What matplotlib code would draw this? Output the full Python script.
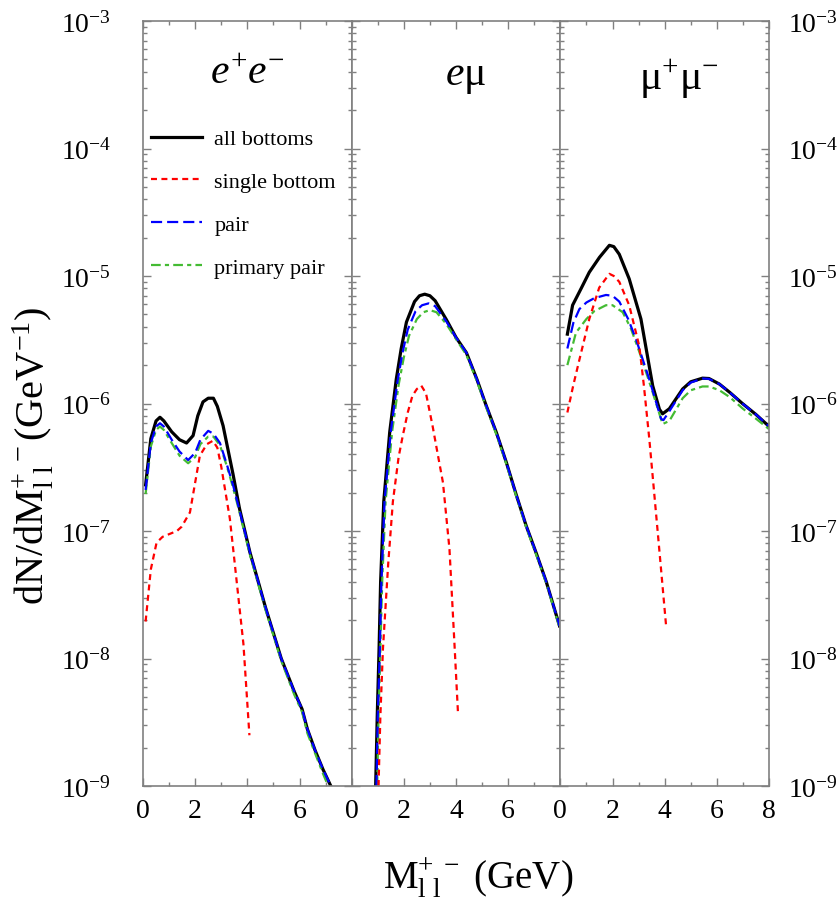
import matplotlib
matplotlib.use("Agg")
import matplotlib.pyplot as plt
from matplotlib.ticker import LogLocator, FixedLocator, NullFormatter, FixedFormatter
import numpy as np

plt.rcParams['font.family'] = ['Liberation Serif', 'DejaVu Serif']
plt.rcParams['mathtext.fontset'] = 'custom'
plt.rcParams['mathtext.rm'] = 'Liberation Serif'
plt.rcParams['mathtext.it'] = 'Liberation Serif:italic'
plt.rcParams['mathtext.bf'] = 'Liberation Serif:bold'
plt.rcParams['lines.scale_dashes'] = False

# ---------------- data ----------------
panel_titles = [r"$e^{+}e^{-}$", r"$e$μ", r"μ$^{+}$μ$^{-}$"]
legend_labels = ["all bottoms", "single bottom", "pair", "primary pair"]
x_ticks = [0, 2, 4, 6, 8]
x_tick_labels = ["0", "2", "4", "6", "8"]
y_ticks = [1e-9, 1e-8, 1e-7, 1e-6, 1e-5, 1e-4, 1e-3]
y_tick_labels = [r"$10^{-9}$", r"$10^{-8}$", r"$10^{-7}$", r"$10^{-6}$",
                 r"$10^{-5}$", r"$10^{-4}$", r"$10^{-3}$"]

# e+e- panel
ee_all_x = [0.1, 0.3, 0.5, 0.65, 0.8, 1.1, 1.4, 1.67, 1.92, 2.1, 2.3, 2.5, 2.7, 2.85, 3.07,
            3.45, 3.7, 4.1, 4.7, 5.3, 5.8, 6.1, 6.3, 6.6, 6.9, 7.2]
ee_all = [2.3e-7, 5.3e-7, 7.3e-7, 7.8e-7, 7.3e-7, 6.0e-7, 5.2e-7, 4.9e-7, 5.6e-7, 8.0e-7,
          1.03e-6, 1.1e-6, 1.1e-6, 9.5e-7, 6.7e-7, 2.8e-7, 1.5e-7, 6.8e-8, 2.5e-8, 1.0e-8,
          5.5e-9, 4.0e-9, 2.8e-9, 1.9e-9, 1.35e-9, 1.0e-9]
ee_single_x = [0.1, 0.3, 0.52, 0.75, 1.03, 1.3, 1.48, 1.8, 2.0, 2.18, 2.45, 2.68, 2.85, 3.0,
               3.33, 3.5, 3.7, 3.85, 4.08]
ee_single = [1.95e-8, 5e-8, 8.1e-8, 9e-8, 9.5e-8, 1.0e-7, 1.08e-7, 1.4e-7, 2.4e-7, 3.9e-7,
             4.8e-7, 5.1e-7, 4.5e-7, 3.2e-7, 1.25e-7, 6e-8, 2.5e-8, 1.3e-8, 2.5e-9]
ee_pair_x = [0.1, 0.3, 0.5, 0.65, 0.8, 1.1, 1.4, 1.73, 2.0, 2.2, 2.5, 2.7, 2.95, 3.2, 3.45,
             3.7, 4.1, 4.7, 5.3, 5.8, 6.1, 6.3, 6.6, 6.9, 7.2]
ee_pair = [2.1e-7, 4.9e-7, 6.6e-7, 7.0e-7, 6.6e-7, 5.2e-7, 4.2e-7, 3.6e-7, 4.1e-7, 5.2e-7,
           6.1e-7, 5.8e-7, 4.9e-7, 3.4e-7, 2.3e-7, 1.45e-7, 6.8e-8, 2.5e-8, 1.0e-8, 5.5e-9,
           4.0e-9, 2.8e-9, 1.9e-9, 1.35e-9, 1.0e-9]
ee_prim_x = [0.1, 0.3, 0.5, 0.65, 0.8, 1.1, 1.4, 1.73, 2.0, 2.2, 2.5, 2.7, 2.95, 3.2, 3.45,
             3.7, 4.1, 4.7, 5.3, 5.8, 6.1, 6.3, 6.6, 6.9, 7.1]
ee_prim = [1.95e-7, 4.6e-7, 6.2e-7, 6.6e-7, 6.2e-7, 4.9e-7, 3.9e-7, 3.4e-7, 3.8e-7, 4.8e-7,
           5.5e-7, 5.5e-7, 4.7e-7, 3.3e-7, 2.2e-7, 1.4e-7, 6.5e-8, 2.4e-8, 9.6e-9, 5.2e-9,
           3.8e-9, 2.6e-9, 1.8e-9, 1.25e-9, 1.0e-9]

# e mu panel
em_all_x = [0.92, 0.98, 1.05, 1.11, 1.23, 1.46, 1.71, 1.9, 2.1, 2.41, 2.6, 2.8, 3.0, 3.2,
            3.63, 4.0, 4.4, 4.8, 5.16, 5.55, 5.93, 6.3, 6.69, 7.1, 7.46, 7.97]
em_all = [1e-9, 3.5e-9, 1.17e-8, 4e-8, 1.7e-7, 6e-7, 1.55e-6, 2.7e-6, 4.35e-6, 6.3e-6,
          7.0e-6, 7.2e-6, 7.0e-6, 6.4e-6, 4.55e-6, 3.3e-6, 2.5e-6, 1.55e-6, 9.6e-7, 5.9e-7,
          3.45e-7, 1.95e-7, 1.1e-7, 6.5e-8, 4e-8, 1.8e-8]
em_single_x = [1.03, 1.1, 1.2, 1.4, 1.58, 1.8, 1.96, 2.15, 2.33, 2.5, 2.67, 2.85, 3.1, 3.3,
               3.5, 3.75, 3.95, 4.08]
em_single = [1e-9, 3.5e-9, 1.2e-8, 5.5e-8, 1.7e-7, 3.8e-7, 5.6e-7, 8.5e-7, 1.15e-6, 1.3e-6,
             1.38e-6, 1.2e-6, 6.7e-7, 4e-7, 2.4e-7, 7.2e-8, 1.2e-8, 3.6e-9]
em_pair_x = [0.95, 1.0, 1.08, 1.14, 1.26, 1.5, 1.76, 1.95, 2.15, 2.45, 2.7, 2.95, 3.2, 3.63,
             4.0, 4.4, 4.8, 5.16, 5.55, 5.93, 6.3, 6.69, 7.1, 7.46, 7.97]
em_pair = [1e-9, 3.5e-9, 1.17e-8, 4e-8, 1.7e-7, 6e-7, 1.5e-6, 2.5e-6, 3.8e-6, 5.3e-6,
           5.9e-6, 6.1e-6, 5.8e-6, 4.4e-6, 3.3e-6, 2.5e-6, 1.55e-6, 9.6e-7, 5.9e-7,
           3.45e-7, 1.95e-7, 1.1e-7, 6.5e-8, 4e-8, 1.8e-8]
em_prim_x = [0.98, 1.03, 1.1, 1.17, 1.3, 1.55, 1.8, 2.0, 2.2, 2.5, 2.75, 3.0, 3.25, 3.63,
             4.0, 4.4, 4.8, 5.16, 5.55, 5.93, 6.3, 6.69, 7.1, 7.46, 7.97]
em_prim = [1e-9, 3.5e-9, 1.17e-8, 4e-8, 1.7e-7, 6e-7, 1.4e-6, 2.3e-6, 3.4e-6, 4.6e-6,
           5.2e-6, 5.4e-6, 5.2e-6, 4.2e-6, 3.2e-6, 2.4e-6, 1.5e-6, 9.3e-7, 5.7e-7,
           3.35e-7, 1.9e-7, 1.07e-7, 6.3e-8, 3.9e-8, 1.75e-8]

# mu+ mu- panel
mm_all_x = [0.27, 0.47, 0.8, 1.11, 1.5, 1.88, 2.05, 2.26, 2.64, 3.09, 3.54, 3.8, 3.92, 4.18,
            4.69, 5.0, 5.45, 5.7, 6.1, 6.5, 6.98, 7.5, 7.97]
mm_all = [3.5e-6, 5.9e-6, 8.0e-6, 1.07e-5, 1.4e-5, 1.74e-5, 1.7e-5, 1.48e-5, 9.5e-6, 4.6e-6,
          1.38e-6, 9e-7, 8.3e-7, 9.1e-7, 1.3e-6, 1.48e-6, 1.58e-6, 1.57e-6, 1.42e-6,
          1.22e-6, 1.0e-6, 8.2e-7, 6.7e-7]
mm_single_x = [0.27, 0.5, 0.73, 1.11, 1.49, 1.88, 2.05, 2.26, 2.64, 3.03, 3.2, 3.41, 3.73, 4.05]
mm_single = [8.5e-7, 1.4e-6, 2.2e-6, 4.6e-6, 8.1e-6, 1.04e-5, 1.0e-5, 9.0e-6, 5.9e-6, 2.8e-6,
             1.4e-6, 5.3e-7, 1.0e-7, 1.85e-8]
mm_pair_x = [0.27, 0.5, 0.73, 1.0, 1.3, 1.75, 2.0, 2.26, 2.6, 2.9, 3.41, 3.86, 3.95, 4.18,
             4.69, 5.0, 5.45, 5.7, 6.1, 6.5, 6.98, 7.5, 7.97]
mm_pair = [2.7e-6, 4.3e-6, 5.5e-6, 6.2e-6, 6.7e-6, 7.1e-6, 7.0e-6, 6.3e-6, 4.6e-6, 3.2e-6,
           1.55e-6, 7.6e-7, 7.4e-7, 8.7e-7, 1.27e-6, 1.46e-6, 1.57e-6, 1.56e-6, 1.42e-6,
           1.22e-6, 1.0e-6, 8.2e-7, 6.7e-7]
mm_prim_x = [0.27, 0.6, 1.0, 1.3, 1.75, 2.0, 2.39, 2.7, 3.04, 3.5, 3.92, 4.18, 4.69, 5.0,
             5.45, 5.7, 6.1, 6.5, 7.0, 7.5, 8.0]
mm_prim = [2.0e-6, 3.6e-6, 4.6e-6, 5.3e-6, 5.9e-6, 5.9e-6, 5.2e-6, 3.9e-6, 2.5e-6, 1.3e-6,
           6.9e-7, 7.3e-7, 1.1e-6, 1.27e-6, 1.36e-6, 1.36e-6, 1.27e-6, 1.12e-6, 9.1e-7,
           7.6e-7, 6.3e-7]

panels = [
    (ee_all_x, ee_all, ee_single_x, ee_single, ee_pair_x, ee_pair, ee_prim_x, ee_prim),
    (em_all_x, em_all, em_single_x, em_single, em_pair_x, em_pair, em_prim_x, em_prim),
    (mm_all_x, mm_all, mm_single_x, mm_single, mm_pair_x, mm_pair, mm_prim_x, mm_prim),
]

# ---------------- styles ----------------
c_all, c_single, c_pair, c_prim = "#000000", "#ff0000", "#0000ff", "#44bb33"
frame_col = "#808080"

W, H = 838, 903
fig = plt.figure(figsize=(W / 100, H / 100), dpi=100)
fig.subplots_adjust(left=143 / W, right=769 / W, top=1 - 22 / H, bottom=1 - 787 / H, wspace=0)
axes = fig.subplots(1, 3, sharey=True)

title_pos = [(0.50, 0.932), (0.545, 0.928), (0.57, 0.925)]

for i, ax in enumerate(axes):
    ax_x, ax_y, s_x, s_y, p_x, p_y, q_x, q_y = panels[i]
    l_all, = ax.plot(ax_x, ax_y, color=c_all, lw=2.3, solid_joinstyle='round')
    l_prim, = ax.plot(q_x, q_y, color=c_prim, lw=1.6, dashes=(7, 3, 3, 3))
    l_pair, = ax.plot(p_x, p_y, color=c_pair, lw=1.6, dashes=(8, 3.6))
    l_single, = ax.plot(s_x, s_y, color=c_single, lw=1.6, dashes=(4.3, 3.2))
    ax.set_yscale('log')
    ax.set_ylim(1e-9, 1e-3)
    ax.set_xlim(0, 8)
    ax.xaxis.set_major_locator(FixedLocator(x_ticks))
    ax.xaxis.set_minor_locator(FixedLocator([1, 3, 5, 7]))
    labs = list(x_tick_labels)
    if i < 2:
        labs[-1] = ""
    ax.xaxis.set_major_formatter(FixedFormatter(labs))
    ax.yaxis.set_major_locator(FixedLocator(y_ticks))
    ax.yaxis.set_minor_locator(LogLocator(base=10, subs=np.arange(2, 10), numticks=20))
    ax.yaxis.set_minor_formatter(NullFormatter())
    ax.tick_params(which='both', direction='in', top=True, bottom=True, left=True, right=True,
                   color=frame_col, width=1.0)
    ax.tick_params(which='major', length=6)
    ax.tick_params(which='minor', length=3)
    ax.tick_params(axis='x', labelsize=20, pad=9)
    ax.tick_params(axis='y', labelsize=20, labelleft=False, labelright=False)
    for sp in ax.spines.values():
        sp.set_color(frame_col)
        sp.set_linewidth(1.2)
    ax.text(title_pos[i][0], title_pos[i][1], panel_titles[i], transform=ax.transAxes,
            ha='center', va='center', fontsize=30)
    if i == 0:
        ax.legend([l_all, l_single, l_pair, l_prim], legend_labels, loc='upper left',
                  bbox_to_anchor=(0.038, 0.859), frameon=False, fontsize=16,
                  handlelength=2.3, handletextpad=0.55, labelspacing=1.0,
                  borderpad=0, borderaxespad=0)

axes[0].yaxis.set_major_formatter(FixedFormatter(y_tick_labels))
axes[0].tick_params(axis='y', labelleft=True, pad=23)
axes[2].yaxis.set_major_formatter(FixedFormatter(y_tick_labels))
axes[2].tick_params(axis='y', labelright=True, pad=14)

fig.text(33 / W, 1 - 456 / H, r"dN/dM$_{\rm l\,\,l}^{+\,\,-}$(GeV$^{-1}$)", rotation=90,
         ha='center', va='center', fontsize=29)
fig.text(478 / W, 1 - 878 / H, r"M$_{\rm l\,\,l}^{+\,\,-}$ (GeV)", ha='center', va='center',
         fontsize=28)

fig.savefig("out.png", dpi=100)
